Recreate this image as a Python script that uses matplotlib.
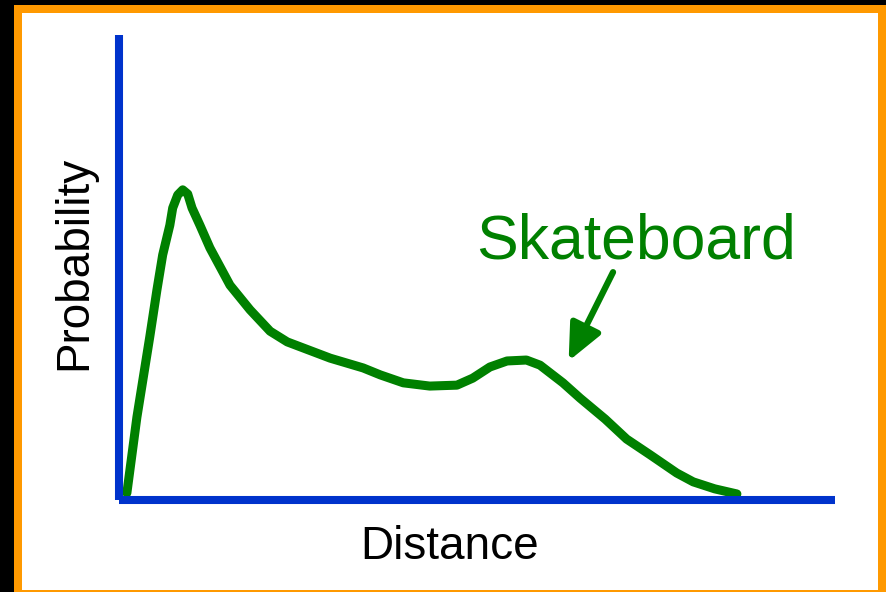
import numpy as np
import matplotlib
matplotlib.use("Agg")
import matplotlib.pyplot as plt
from matplotlib.patches import Rectangle

# --------------------------------------------------------------------
# curve (distance 0..100, probability 0..1)
distance = [1.1, 2.5, 4.3, 5.3, 6.1, 7.1, 7.5, 8.2, 8.9, 9.6, 10.2, 11.3,
            12.7, 15.5, 18.3, 21.1, 23.5, 29.5, 34.1, 36.5, 39.7, 43.4,
            47.2, 49.4, 51.8, 54.2, 56.9, 58.8, 62.0, 64.4, 67.9, 70.9,
            74.2, 77.9, 80.2, 83.2, 86.3]
probability = [0.015, 0.178, 0.351, 0.452, 0.527, 0.591, 0.628, 0.656,
               0.667, 0.658, 0.628, 0.591, 0.542, 0.462, 0.409, 0.363,
               0.340, 0.305, 0.284, 0.269, 0.252, 0.245, 0.247, 0.262,
               0.286, 0.299, 0.301, 0.290, 0.252, 0.219, 0.174, 0.131,
               0.097, 0.058, 0.039, 0.024, 0.013]
label_text = "Skateboard"
label_pos = (49.9, 0.52)
arrow_tail = (69.0, 0.49)
arrow_tip = (62.8, 0.299)
xlabel = "Distance"
ylabel = "Probability"

GREEN = "#008000"
BLUE = "#0033CC"
ORANGE = "#FF9900"
FONT = "Liberation Sans"
W, H = 886, 592

# --------------------------------------------------------------------
fig = plt.figure(figsize=(W / 100, H / 100), dpi=100)
fig.patch.set_facecolor("black")

def px(x0, y0, x1, y1):
    # pixel box (top-left origin) -> figure fraction rect
    return (x0 / W, 1 - y1 / H, (x1 - x0) / W, (y1 - y0) / H)

r = px(14, 5, 886, 592)
fig.patches.append(Rectangle(r[:2], r[2], r[3], transform=fig.transFigure,
                             facecolor=ORANGE, edgecolor="none", zorder=-3))
r = px(22, 13, 878, 590)
fig.patches.append(Rectangle(r[:2], r[2], r[3], transform=fig.transFigure,
                             facecolor="white", edgecolor="none", zorder=-2))

ax = fig.add_axes(px(119, 35, 835, 500))
ax.set_zorder(1)
ax.patch.set_alpha(0)
ax.set_xlim(0, 100)
ax.set_ylim(0, 1)
ax.set_xticks([])
ax.set_yticks([])
for side in ["top", "right"]:
    ax.spines[side].set_visible(False)
for side in ["left", "bottom"]:
    ax.spines[side].set_color(BLUE)
    ax.spines[side].set_linewidth(5.8)
    ax.spines[side].set_capstyle("butt")

ax.plot(distance, probability, color=GREEN, linewidth=6.5,
        solid_joinstyle="round", solid_capstyle="round", clip_on=False)

ax.text(label_pos[0], label_pos[1], label_text, color=GREEN, fontsize=45,
        family=FONT, ha="left", va="baseline")
ax.annotate("", xy=arrow_tip, xytext=arrow_tail,
            arrowprops=dict(arrowstyle="-|>,head_length=1.1,head_width=0.5",
                            mutation_scale=20, lw=4.5, color=GREEN,
                            shrinkA=0, shrinkB=0))

fig.text(449.5 / W, 1 - 559 / H, xlabel, fontsize=33, family=FONT,
         ha="center", va="baseline")
fig.text(52 / W, 1 - 263 / H, ylabel, fontsize=33, family=FONT,
         rotation=90, ha="left", va="center")

fig.savefig("out.png", dpi=100, facecolor=fig.get_facecolor())
